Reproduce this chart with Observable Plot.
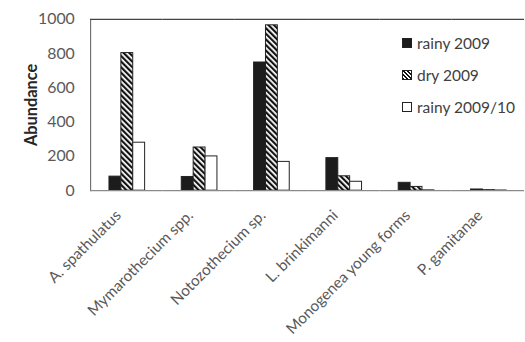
<!DOCTYPE html>
<html>
<head>
<meta charset="utf-8">
<script src="https://cdn.jsdelivr.net/npm/d3@7"></script>
<script src="https://cdn.jsdelivr.net/npm/@observablehq/plot@0.6"></script>
<style>
  html, body { margin: 0; padding: 0; background: #fff; overflow: hidden; }
  #wrap { position: relative; width: 525px; height: 342px; overflow: hidden; }
  #legend { position: absolute; left: 402px; top: 27px; font-family: Lato, "Open Sans", sans-serif; font-size: 15.5px; color: #404040; white-space: nowrap; }
  #legend .row { display: flex; align-items: center; height: 32px; white-space: nowrap; }
  #legend .sw { flex: none; width: 10px; height: 10px; box-sizing: border-box; border: 1px solid #222; margin-right: 5px; }
</style>
</head>
<body>
<div id="wrap"><div id="chart"></div><div id="legend"></div></div>
<script>
const categories = ["A. spathulatus", "Mymarothecium spp.", "Notozothecium sp.", "L. brinkimanni", "Monogenea young forms", "P. gamitanae"];
const seriesNames = ["rainy 2009", "dry 2009", "rainy 2009/10"];
const rainy2009 = [82, 80, 748, 190, 46, 7];
const dry2009 = [803, 252, 965, 84, 22, 3];
const rainy2010 = [280, 200, 168, 52, 2, 1];
const yTicks = [0, 200, 400, 600, 800, 1000];

const seriesValues = [rainy2009, dry2009, rainy2010];
const fills = ["#1c1c1c", "url(#hatch)", "#ffffff"];
const data = [];
categories.forEach((c, i) => seriesNames.forEach((s, j) => data.push({cat: c, series: s, value: seriesValues[j][i], fill: fills[j]})));

const chart = Plot.plot({
  width: 530,
  height: 342,
  marginLeft: 89,
  marginRight: 0,
  marginTop: 19,
  marginBottom: 150,
  style: {fontFamily: "Lato, 'Open Sans', sans-serif", fontSize: "16px", color: "#595959", background: "#fff"},
  fx: {domain: categories, padding: 0, label: null, tickRotate: -45, tickSize: 0, tickPadding: 14},
  x: {domain: seriesNames, paddingInner: 0, paddingOuter: 1.48, axis: null},
  y: {domain: [0, 1000], ticks: yTicks, tickFormat: d3.format("d"), tickSize: 0, tickPadding: 16, label: "Abundance", labelAnchor: "center", labelOffset: 66, line: true},
  color: {type: "identity"},
  marks: [
    Plot.barY(data, {fx: "cat", x: "series", y: "value", fill: "fill", stroke: "#222", strokeWidth: 1}),
    Plot.ruleY([0], {stroke: "#8a8a8a", strokeWidth: 1.2}),
    Plot.ruleY([1000], {stroke: "#444", strokeWidth: 1.2})
  ]
});

const svg = d3.select(chart.tagName.toLowerCase() === "svg" ? chart : chart.querySelector("svg"));
const defs = svg.insert("defs", ":first-child");
const pat = defs.append("pattern").attr("id", "hatch").attr("patternUnits", "userSpaceOnUse")
  .attr("width", 4).attr("height", 4).attr("patternTransform", "rotate(-45)");
pat.append("rect").attr("width", 4).attr("height", 4).attr("fill", "#fff");
pat.append("rect").attr("width", 2.2).attr("height", 4).attr("fill", "#111");

svg.selectAll("text").each(function() {
  const t = this.textContent.trim();
  if (t.startsWith("Abundance")) {
    d3.select(this).style("font-weight", "bold").style("fill", "#262626").style("font-size", "16.5px").text("Abundance");
  } else if (categories.includes(t)) {
    d3.select(this).attr("dx", -12).style("font-size", "15.5px");
  }
});

document.getElementById("chart").appendChild(chart);

const legend = d3.select("#legend");
seriesNames.forEach((s, j) => {
  const row = legend.append("div").attr("class", "row");
  const sw = row.append("div").attr("class", "sw");
  if (j === 1) {
    sw.style("background", "repeating-linear-gradient(45deg, #111 0 1.4px, #fff 1.4px 2.8px)");
  } else {
    sw.style("background", fills[j]);
  }
  row.append("span").text(s);
});
</script>
</body>
</html>
